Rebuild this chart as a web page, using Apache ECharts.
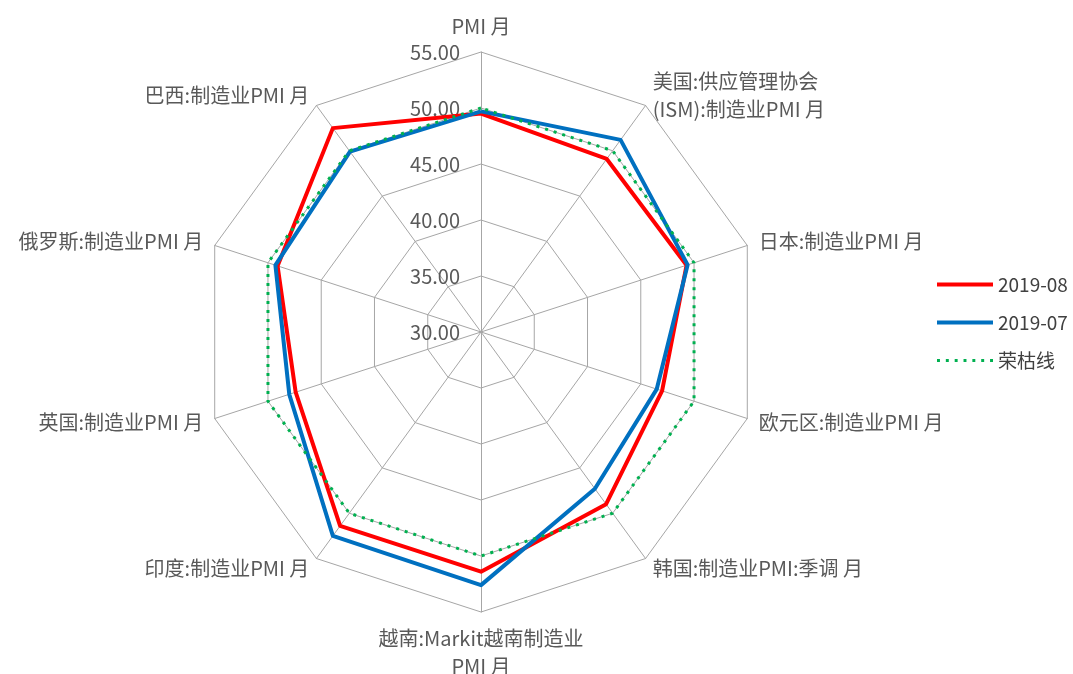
<!DOCTYPE html>
<html>
<head>
<meta charset="utf-8">
<script src="https://cdn.jsdelivr.net/npm/echarts@6/dist/echarts.min.js"></script>
<style>
  html, body { margin: 0; padding: 0; background: #fff; }
  #main { width: 1073px; height: 674px; }
</style>
</head>
<body>
<div id="main"></div>
<script>
// 指标（从顶部开始，逆时针排列，ECharts 雷达图默认逆时针）
var indicatorNames = [
    'PMI 月',
    '巴西:制造业PMI 月',
    '俄罗斯:制造业PMI 月',
    '英国:制造业PMI 月',
    '印度:制造业PMI 月',
    '越南:Markit越南制造业\nPMI 月',
    '韩国:制造业PMI:季调 月',
    '欧元区:制造业PMI 月',
    '日本:制造业PMI 月',
    '美国:供应管理协会\n(ISM):制造业PMI 月'
];
var aug2019 = [49.5, 52.5, 49.1, 47.4, 51.4, 51.4, 49.0, 47.0, 49.3, 49.1];
var jul2019 = [49.7, 49.9, 49.3, 48.0, 52.5, 52.6, 47.3, 46.5, 49.4, 51.2];
var rongku = [50, 50, 50, 50, 50, 50, 50, 50, 50, 50];
var axisMin = 30, axisMax = 55;

var myChart = echarts.init(document.getElementById('main'));

var indicators = indicatorNames.map(function (name, i) {
    var ind = { name: name, min: axisMin, max: axisMax };
    if (i === 0) {
        ind.axisLabel = { show: true }; // 只在顶部轴显示刻度
    }
    return ind;
});

var fontFamily = '"Noto Sans CJK SC", "Noto Sans", sans-serif';
var dotIcon = 'path://M0,0h3v3h-3z M9,0h3v3h-3z M18,0h3v3h-3z M27,0h3v3h-3z M36,0h3v3h-3z M45,0h3v3h-3z M54,0h3v3h-3z';

option = {
    backgroundColor: '#fff',
    animation: false,
    textStyle: { fontFamily: fontFamily },
    legend: {
        orient: 'vertical',
        left: 932,
        top: 270,
        itemWidth: 56,
        itemHeight: 4,
        itemGap: 19,
        textStyle: { fontSize: 19, color: '#404040', fontFamily: fontFamily },
        itemStyle: { borderWidth: 0 },
        data: [
            { name: '2019-08', icon: 'rect' },
            { name: '2019-07', icon: 'rect' },
            { name: '荣枯线', icon: dotIcon }
        ]
    },
    radar: {
        center: [481, 332],
        radius: 280,
        shape: 'polygon',
        splitNumber: 5,
        nameGap: 12,
        indicator: indicators,
        axisName: {
            color: '#595959',
            fontSize: 20,
            lineHeight: 28,
            fontFamily: fontFamily
        },
        axisLine: { lineStyle: { color: '#a6a6a6', width: 1 } },
        splitLine: { lineStyle: { color: '#a6a6a6', width: 1 } },
        splitArea: { show: false },
        axisTick: { show: false },
        axisLabel: {
            show: false,
            margin: 21,
            align: 'right',
            color: '#595959',
            fontSize: 20,
            fontFamily: fontFamily,
            formatter: function (v) { return v.toFixed(2); }
        }
    },
    series: [
        {
            name: '2019-08',
            type: 'radar',
            symbol: 'none',
            itemStyle: { color: '#ff0000' },
            lineStyle: { color: '#ff0000', width: 4 },
            data: [{ name: '2019-08', value: aug2019 }]
        },
        {
            name: '2019-07',
            type: 'radar',
            symbol: 'none',
            itemStyle: { color: '#0070c0' },
            lineStyle: { color: '#0070c0', width: 4 },
            data: [{ name: '2019-07', value: jul2019 }]
        },
        {
            name: '荣枯线',
            type: 'radar',
            symbol: 'none',
            itemStyle: { color: '#00b050' },
            lineStyle: { color: '#00b050', width: 3, type: [3, 6] },
            data: [{ name: '荣枯线', value: rongku }]
        }
    ]
};

myChart.setOption(option);
</script>
</body>
</html>
